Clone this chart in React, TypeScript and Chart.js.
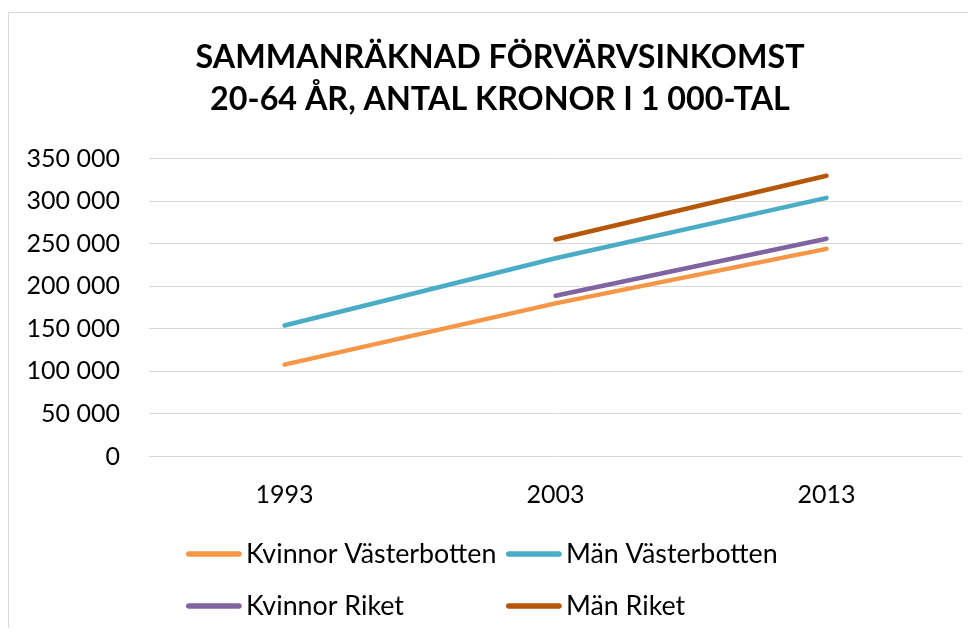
import { useEffect, useRef } from 'react';
import { Chart, registerables } from 'chart.js';

Chart.register(...registerables);

// ---- Data ----
const years = ['1993', '2003', '2013'];
const kvinnorVasterbotten = [108000, 180000, 244000];
const manVasterbotten = [154000, 233000, 304000];
const kvinnorRiket = [null, 189000, 256000];
const manRiket = [null, 255000, 330000];
const seriesNames = ['Kvinnor Västerbotten', 'Män Västerbotten', 'Kvinnor Riket', 'Män Riket'];
const seriesColors = ['#F79646', '#4BACC6', '#8064A2', '#B65708'];
const titleLines = ['SAMMANRÄKNAD FÖRVÄRVSINKOMST', '20-64 ÅR, ANTAL KRONOR I 1 000-TAL'];
const yMin = 0;
const yMax = 350000;
const yStep = 50000;

const FONT = 'Lato, "Open Sans", sans-serif';

function formatThousands(v: number): string {
  return String(v).replace(/\B(?=(\d{3})+(?!\d))/g, ' ');
}

const gridLegend = {
  id: 'gridLegend',
  afterDraw(chart: any) {
    const ctx = chart.ctx;
    const cols = [178, 498];
    const rows = [546, 598];
    chart.data.datasets.forEach((ds: any, i: number) => {
      const x = cols[i % 2];
      const y = rows[Math.floor(i / 2)];
      ctx.save();
      ctx.strokeStyle = ds.borderColor;
      ctx.lineWidth = 5.5;
      ctx.lineCap = 'round';
      ctx.beginPath();
      ctx.moveTo(x + 2.75, y);
      ctx.lineTo(x + 53, y);
      ctx.stroke();
      ctx.fillStyle = '#000';
      ctx.font = `26.8px ${FONT}`;
      ctx.textBaseline = 'middle';
      ctx.textAlign = 'left';
      ctx.fillText(ds.label, x + 60, y);
      ctx.restore();
    });
  },
};

export default function App() {
  const ref = useRef<HTMLCanvasElement | null>(null);

  useEffect(() => {
    if (!ref.current) return;
    const seriesData = [kvinnorVasterbotten, manVasterbotten, kvinnorRiket, manRiket];
    const chart = new Chart(ref.current, {
      type: 'line',
      data: {
        labels: years,
        datasets: seriesData.map((d, i) => ({
          label: seriesNames[i],
          data: d,
          yAxisID: 'y',
          borderColor: seriesColors[i],
          backgroundColor: seriesColors[i],
          borderWidth: 4.5,
          borderCapStyle: 'round',
          borderJoinStyle: 'round',
          pointRadius: 0,
          pointHoverRadius: 0,
          tension: 0,
          fill: false,
          spanGaps: false,
        })),
      },
      options: {
        responsive: false,
        animation: false,
        devicePixelRatio: 1,
        layout: { padding: { left: 0, right: 0, top: 0, bottom: 101.5 } },
        plugins: {
          legend: { display: false },
          tooltip: { enabled: false },
          title: {
            display: true,
            text: titleLines,
            color: '#000',
            font: { family: FONT, size: 32.3, weight: 'bold', lineHeight: 42 / 32.3 },
            padding: { top: 28.5, bottom: 38.2 },
          },
        },
        scales: {
          x: {
            type: 'category',
            offset: true,
            grid: { display: false, drawTicks: false },
            border: { display: false },
            ticks: { color: '#000', font: { family: FONT, size: 25 }, padding: 23.5 },
            afterFit: (s: any) => { s.height = 70; },
          },
          y: {
            position: 'left',
            min: yMin,
            max: yMax,
            grid: { color: '#d9d9d9', lineWidth: 1, drawTicks: false },
            border: { display: false },
            ticks: {
              stepSize: yStep,
              color: '#000',
              font: { family: FONT, size: 25 },
              padding: 29,
              callback: (v: any) => formatThousands(Number(v)),
            },
            afterFit: (s: any) => { s.width = 141; },
          },
          yRightSpace: {
            position: 'right',
            min: yMin,
            max: yMax,
            grid: { display: false, drawTicks: false },
            border: { display: false },
            ticks: { display: false },
            afterFit: (s: any) => { s.width = 30; },
          },
        },
      },
      plugins: [gridLegend],
    } as any);
    return () => chart.destroy();
  }, []);

  return (
    <div style={{ position: 'relative', width: 960, height: 620, overflow: 'hidden', background: '#fff' }}>
      <div
        style={{
          position: 'absolute',
          left: 0,
          top: 4,
          width: 1200,
          height: 1000,
          borderLeft: '1px solid #d9d9d9',
          borderTop: '1px solid #d9d9d9',
          boxSizing: 'border-box',
        }}
      />
      <canvas ref={ref} width={984} height={620} style={{ position: 'absolute', left: 0, top: 0, width: 984, height: 620 }} />
    </div>
  );
}
